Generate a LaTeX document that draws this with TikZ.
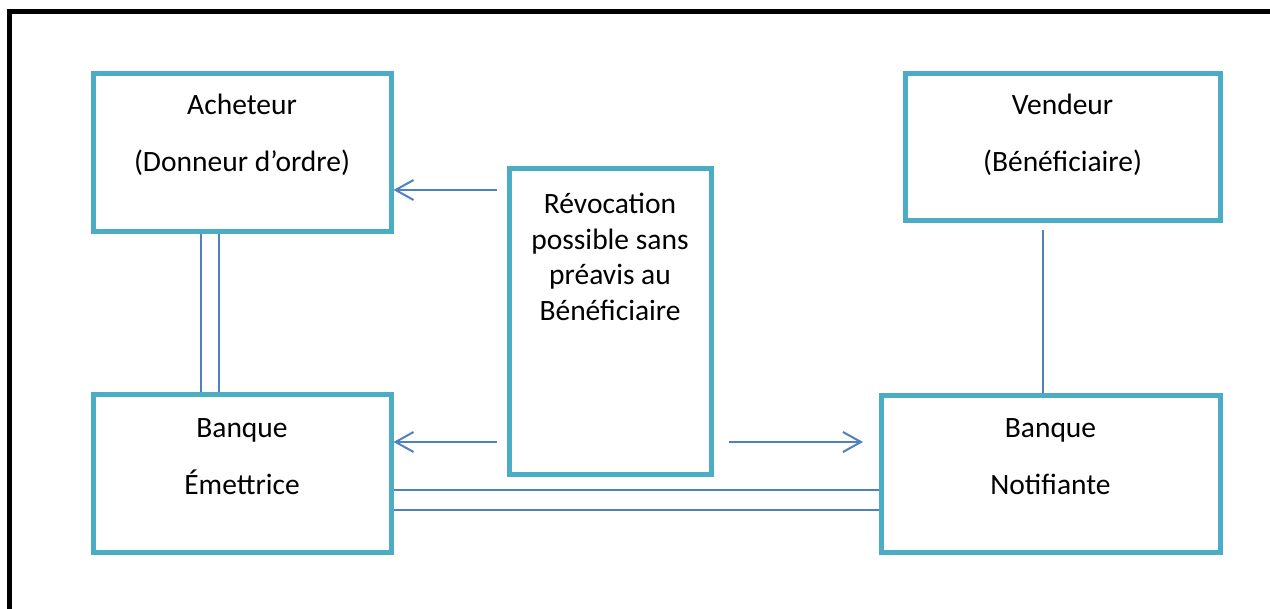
\documentclass[tikz,border=0pt]{standalone}
\usepackage{fontspec}
\setmainfont{Carlito}
\usetikzlibrary{arrows.meta}
\definecolor{cadre}{HTML}{4BACC6}
\definecolor{trait}{HTML}{4F81BD}
\tikzset{
  boite/.style={draw=cadre, line width=2.5pt, inner sep=0pt},
  texte/.style={align=center, inner sep=0pt, anchor=north, font=\fontsize{14.75}{17.75}\selectfont},
  lien/.style={draw=trait, line width=0.75pt},
  fleche/.style={draw=trait, line width=1pt, -{Straight Barb[length=9pt,width=10pt]}}
}
\begin{document}
\begin{tikzpicture}[x=0.5pt, y=-0.5pt]
\useasboundingbox (0,0) rectangle (1270,609);
% cadre
\draw[line width=2.5pt, line cap=rect] (9.5,609) -- (9.5,11.5) -- (1270,11.5);
% boites
\node[boite, minimum width=149pt, minimum height=79pt] (acheteur) at (242,153) {};
\node[boite, minimum width=157.5pt, minimum height=73.5pt] (vendeur) at (1062.5,147.5) {};
\node[boite, minimum width=101pt, minimum height=152.5pt] (revoc) at (610,321.5) {};
\node[boite, minimum width=149pt, minimum height=78.5pt] (emettrice) at (242,473.5) {};
\node[boite, minimum width=169.5pt, minimum height=78pt] (notif) at (1050.5,474) {};
% textes
\node[texte] (t-acheteur) at (242,94) {Acheteur\\[10.75pt](Donneur d’ordre)};
\node[texte] (t-vendeur) at (1062.5,94) {Vendeur\\[10.75pt](Bénéficiaire)};
\node[texte] (t-revoc) at (610,193) {Révocation\\possible sans\\préavis au\\Bénéficiaire};
\node[texte] (t-emettrice) at (242,418) {Banque\\[10.75pt]Émettrice};
\node[texte] (t-notif) at (1050.5,418) {Banque\\[10.75pt]Notifiante};
% liens
\draw[lien] ([xshift=55.25pt]acheteur.south west) -- ([xshift=55.25pt]acheteur.south west |- emettrice.north);
\draw[lien] ([xshift=64.25pt]acheteur.south west) -- ([xshift=64.25pt]acheteur.south west |- emettrice.north);
\draw[lien] ([xshift=-9.75pt, yshift=-3.25pt]vendeur.south) -- ([xshift=-9.75pt]vendeur.south |- notif.north);
\draw[lien] ([yshift=-8.25pt]emettrice.east) -- ([yshift=-8.25pt]emettrice.east -| notif.west);
\draw[lien] ([yshift=-18.25pt]emettrice.east) -- ([yshift=-18.25pt]emettrice.east -| notif.west);
% fleches
\coordinate (r1) at (497,190);
\coordinate (r2) at (497,442);
\coordinate (r3) at (729,442);
\coordinate (r4) at (863,442);
\draw[fleche] (r1) -- (r1 -| acheteur.east);
\draw[fleche] (r2) -- (r2 -| emettrice.east);
\draw[fleche] (r3) -- (r4);
\end{tikzpicture}
\end{document}
